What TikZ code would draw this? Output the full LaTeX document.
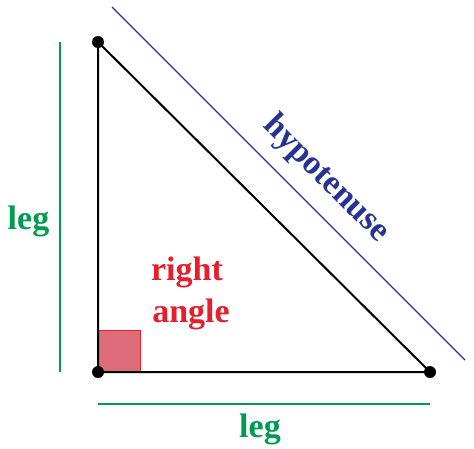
\documentclass[tikz,border=0pt]{standalone}
\usepackage{fontspec}
\setmainfont{Liberation Serif}
\usetikzlibrary{positioning}

\definecolor{leggreen}{RGB}{0,155,80}
\definecolor{hypblue}{RGB}{40,50,145}
\definecolor{angred}{RGB}{228,32,44}
\definecolor{angfill}{RGB}{222,108,120}

\tikzset{
	corner/.style = {circle, fill=black, inner sep=0pt, minimum size=12pt},
	side/.style = {line width=2pt},
	legline/.style = {leggreen, line width=1.6pt},
	hypline/.style = {hypblue, line width=1.4pt},
	label/.style = {font=\fontsize{34}{40}\selectfont\bfseries, inner sep=0pt},
}

\begin{document}
\begin{tikzpicture}[x=1pt, y=-1pt]
		\useasboundingbox (0,0) rectangle (474,448);
		
		\coordinate (top) at (98,42);
		\coordinate (ra) at (98,372);
		\coordinate (right) at (430,372);
		
		% right angle marker
		\draw[angred, fill=angfill, line width=1pt] (ra) rectangle (140,330);
		
		\draw[side] (top) -- (ra) -- (right) -- cycle;
		
		\node[corner] (dtop) at (top) {};
		\node[corner] (dra) at (ra) {};
		\node[corner] (dright) at (right) {};
		
		% legs
		\coordinate (v1) at (60,42);
		\coordinate (v2) at (60,372);
		\coordinate (h1) at (98,404);
		\coordinate (h2) at (430,404);
		\draw[legline] (v1) -- (v2);
		\draw[legline] (h1) -- (h2);
		\node[label, leggreen, anchor=base] (legl) at (28.5,229) {leg};
		\node[label, leggreen, anchor=base] (legb) at (260,437) {leg};
		
		% hypotenuse
		\coordinate (p1) at (112,7);
		\coordinate (p2) at (465,360);
		\draw[hypline] (p1) -- (p2);
		\node[label, hypblue, rotate=-45] (hyp) at (326,179) {hypotenuse};
		
		% right angle text
		\node[label, angred, anchor=base] (rt) at (187,280) {right};
		\node[label, angred, anchor=base] (ang) at (191,322) {angle};
	\end{tikzpicture}
\end{document}
